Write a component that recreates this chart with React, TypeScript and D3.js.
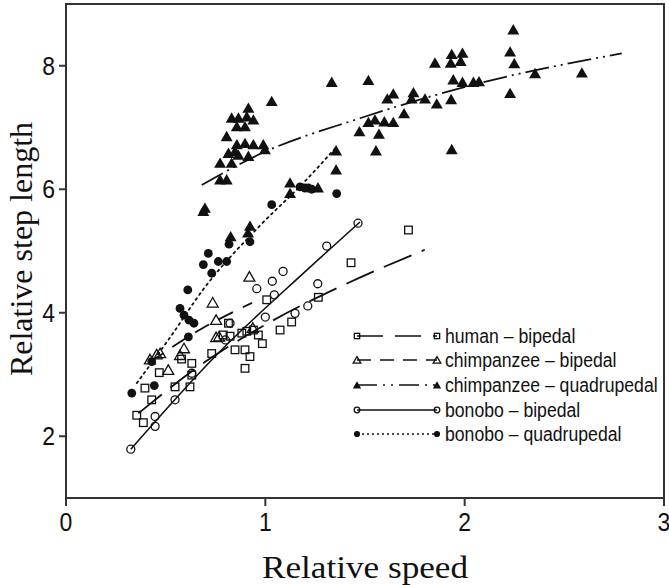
import React from "react";
import * as d3 from "d3";

const xTicks = [0, 1, 2, 3];
const yTicks = [2, 4, 6, 8];

const humanBipedal: [number, number][] = [
  [0.355, 2.34], [0.388, 2.22], [0.396, 2.78], [0.43, 2.59], [0.468, 3.03], [0.547, 2.8], [0.58, 3.25],
  [0.622, 2.8], [0.631, 3.18], [0.631, 2.99], [0.731, 3.34], [0.789, 3.64], [0.815, 3.83], [0.823, 3.62],
  [0.848, 3.4], [0.882, 3.67], [0.898, 3.4], [0.898, 3.1], [0.923, 3.29], [0.907, 3.7], [0.94, 3.72],
  [0.965, 3.64], [0.985, 3.5], [1.007, 4.21], [1.074, 3.72], [1.132, 3.85], [1.266, 4.25], [1.43, 4.81],
  [1.718, 5.34],
];
const chimpBipedal: [number, number][] = [
  [0.421, 3.24], [0.455, 3.32], [0.472, 3.34], [0.513, 3.07], [0.572, 3.31], [0.592, 3.42], [0.736, 4.16],
  [0.753, 3.88], [0.753, 3.6], [0.768, 3.61], [0.92, 4.58], [0.937, 3.75],
];
const chimpQuadrupedal: [number, number][] = [
  [0.689, 5.64], [0.697, 5.69], [0.773, 6.15], [0.806, 6.15], [0.773, 6.42], [0.831, 6.42], [0.806, 6.85],
  [0.815, 6.58], [0.848, 6.61], [0.865, 6.55], [0.915, 6.53], [0.857, 6.72], [0.898, 6.74], [0.94, 6.72],
  [0.99, 6.72], [0.998, 6.64], [0.857, 7.01], [0.898, 7.01], [0.831, 7.15], [0.865, 7.15], [0.907, 7.17],
  [0.94, 7.12], [0.915, 7.31], [1.032, 7.42], [0.826, 5.23], [0.913, 5.29], [0.923, 5.4], [1.124, 6.1],
  [1.124, 5.93], [1.264, 6.02], [1.355, 6.31], [1.355, 6.62], [1.333, 7.73], [1.517, 7.76], [1.472, 6.93],
  [1.57, 6.89], [1.517, 7.08], [1.55, 7.12], [1.597, 7.09], [1.642, 7.08], [1.555, 6.62], [1.696, 7.22],
  [1.612, 7.46], [1.642, 7.54], [1.734, 7.46], [1.743, 7.56], [1.801, 7.46], [1.86, 7.38], [1.932, 7.45],
  [1.935, 6.64], [1.851, 8.04], [1.93, 8.04], [1.935, 8.18], [1.98, 8.07], [1.989, 8.2], [1.943, 7.77],
  [1.989, 7.73], [2.044, 7.73], [2.072, 7.74], [2.228, 8.22], [2.249, 8.03], [2.244, 8.58], [2.228, 7.55],
  [2.353, 7.87], [2.588, 7.88],
];
const bonoboBipedal: [number, number][] = [
  [0.325, 1.79], [0.447, 2.16], [0.447, 2.32], [0.547, 2.59], [0.631, 3.02], [0.8, 3.56], [0.823, 3.83],
  [0.957, 4.39], [1.0, 3.93], [1.035, 4.51], [1.045, 4.29], [1.089, 4.67], [1.149, 3.99], [1.213, 4.11],
  [1.263, 4.47], [1.308, 5.08], [1.465, 5.45],
];
const bonoboQuadrupedal: [number, number][] = [
  [0.33, 2.7], [0.443, 2.82], [0.43, 3.21], [0.614, 3.61], [0.572, 4.07], [0.592, 3.96], [0.617, 3.88],
  [0.642, 3.83], [0.611, 4.37], [0.689, 4.78], [0.714, 4.96], [0.731, 4.64], [0.764, 4.83], [0.806, 4.83],
  [0.818, 5.11], [0.923, 5.15], [1.032, 5.75], [1.174, 6.04], [1.199, 6.02], [1.216, 6.02], [1.233, 6.0],
  [1.358, 5.93],
];

// fitted lines
const humanLine: [number, number][] = [[0.363, 2.37], [0.7, 3.21], [1.03, 3.86], [1.4, 4.46], [1.8, 5.02]];
const chimpBipedalLine: [number, number][] = [[0.421, 3.2], [0.68, 3.74], [0.933, 4.16]];
const chimpQuadLine: [number, number][] = [[0.681, 6.07], [0.973, 6.57], [1.475, 7.15], [2.077, 7.72], [2.788, 8.2]];
const bonoboBipedalLine: [number, number][] = [[0.325, 1.79], [0.75, 3.3], [1.208, 4.69], [1.475, 5.47]];
const bonoboQuadLine: [number, number][] = [[0.355, 2.86], [0.522, 3.6], [0.689, 4.38], [0.973, 5.41], [1.19, 6.1], [1.358, 6.69]];

const legendLabels = [
  "human – bipedal",
  "chimpanzee – bipedal",
  "chimpanzee – quadrupedal",
  "bonobo – bipedal",
  "bonobo – quadrupedal",
];

type Kind = "square" | "triOpen" | "triFilled" | "circOpen" | "circFilled";

const W = 669, H = 585;
const x = d3.scaleLinear().domain([0, 3]).range([66, 664]);
const y = d3.scaleLinear().domain([1, 9]).range([498, 4]);

function Marker({ kind, cx, cy, s = 1 }: { kind: Kind; cx: number; cy: number; s?: number }) {
  const sw = 1.3;
  if (kind === "square") {
    const h = 3.8 * s;
    return <rect x={cx - h} y={cy - h} width={2 * h} height={2 * h} fill="none" stroke="#111" strokeWidth={sw} />;
  }
  if (kind === "circOpen") return <circle cx={cx} cy={cy} r={4 * s} fill="none" stroke="#111" strokeWidth={sw} />;
  if (kind === "circFilled") return <circle cx={cx} cy={cy} r={4.4 * s} fill="#111" />;
  const sym = d3.symbol().type(d3.symbolTriangle).size(kind === "triFilled" ? 62 * s * s : 52 * s * s)();
  if (kind === "triFilled") return <path d={sym || ""} transform={`translate(${cx},${cy + 1})`} fill="#111" />;
  return <path d={sym || ""} transform={`translate(${cx},${cy + 1})`} fill="none" stroke="#111" strokeWidth={sw} />;
}

const series: { data: [number, number][]; kind: Kind; line: [number, number][]; dash: string; lw: number }[] = [
  { data: humanBipedal, kind: "square", line: humanLine, dash: "30,11", lw: 1.8 },
  { data: chimpBipedal, kind: "triOpen", line: chimpBipedalLine, dash: "16,11", lw: 1.8 },
  { data: chimpQuadrupedal, kind: "triFilled", line: chimpQuadLine, dash: "24,5,2,5,2,5", lw: 1.8 },
  { data: bonoboBipedal, kind: "circOpen", line: bonoboBipedalLine, dash: "", lw: 1.6 },
  { data: bonoboQuadrupedal, kind: "circFilled", line: bonoboQuadLine, dash: "2,4", lw: 1.8 },
];
const legendDash = ["26,12", "14,9", "20,6,2,6,2,6", "", "2,3"];

export default function App() {
  const lineGen = d3.line<[number, number]>().x((d) => x(d[0])).y((d) => y(d[1])).curve(d3.curveMonotoneX);
  const legendRows = [336, 360, 385, 410, 434];
  const cx = (x(0) + x(3)) / 2;
  return (
    <svg width={W} height={H} style={{ position: "absolute", left: 0, top: 0, background: "#fff" }}>
      <rect x={0} y={0} width={W} height={H} fill="#fff" />
      {/* frame */}
      <rect x={x(0)} y={y(9)} width={x(3) - x(0)} height={y(1) - y(9)} fill="none" stroke="#333" strokeWidth={2} />
      {xTicks.map((t) => (
        <g key={"xt" + t}>
          <line x1={x(t)} x2={x(t)} y1={y(1)} y2={y(1) + 8} stroke="#333" strokeWidth={2} />
          <text x={x(t)} y={y(1) + 33} textAnchor="middle" fontFamily="Liberation Sans, Arial, sans-serif" fontSize={25}
            transform={`translate(${x(t)},0) scale(0.92,1) translate(${-x(t)},0)`} fill="#111">{t}</text>
        </g>
      ))}
      {yTicks.map((t) => (
        <g key={"yt" + t}>
          <line x1={x(0) - 7} x2={x(0)} y1={y(t)} y2={y(t)} stroke="#333" strokeWidth={2} />
          <text x={x(0) - 11} y={y(t) + 9} textAnchor="end" fontFamily="Liberation Sans, Arial, sans-serif" fontSize={25}
            transform={`translate(${x(0) - 11},0) scale(0.92,1) translate(${-(x(0) - 11)},0)`} fill="#111">{t}</text>
        </g>
      ))}
      <text x={cx} y={578} textAnchor="middle" fontFamily="Liberation Serif, Times New Roman, serif" fontSize={32}
        transform={`translate(${cx},0) scale(1.1,1) translate(${-cx},0)`} fill="#111">Relative speed</text>
      <text transform={`translate(32,${(y(1) + y(9)) / 2 - 2}) rotate(-90)`} textAnchor="middle" fontFamily="Liberation Serif, Times New Roman, serif" fontSize={32} fill="#111">Relative step length</text>

      {series.map((s, i) => (
        <path key={"l" + i} d={lineGen(s.line) || ""} fill="none" stroke="#111" strokeWidth={s.lw} strokeDasharray={s.dash || undefined} strokeLinecap={s.dash === "2,4" ? "round" : "butt"} />
      ))}
      {series.map((s, i) => (
        <g key={"p" + i}>
          {s.data.map((d, j) => (
            <Marker key={j} kind={s.kind} cx={x(d[0])} cy={y(d[1])} />
          ))}
        </g>
      ))}

      {/* legend */}
      {series.map((s, i) => (
        <g key={"lg" + i}>
          <line x1={357} x2={437} y1={legendRows[i]} y2={legendRows[i]} stroke="#111" strokeWidth={1.6} strokeDasharray={legendDash[i] || undefined} />
          <Marker kind={s.kind} cx={357} cy={legendRows[i]} s={0.7} />
          <Marker kind={s.kind} cx={437} cy={legendRows[i]} s={0.7} />
          <text x={445} y={legendRows[i] + 7} fontFamily="Liberation Sans, Arial, sans-serif" fontSize={21}
            transform={`translate(445,0) scale(0.84,1) translate(-445,0)`} fill="#111">{legendLabels[i]}</text>
        </g>
      ))}
    </svg>
  );
}
